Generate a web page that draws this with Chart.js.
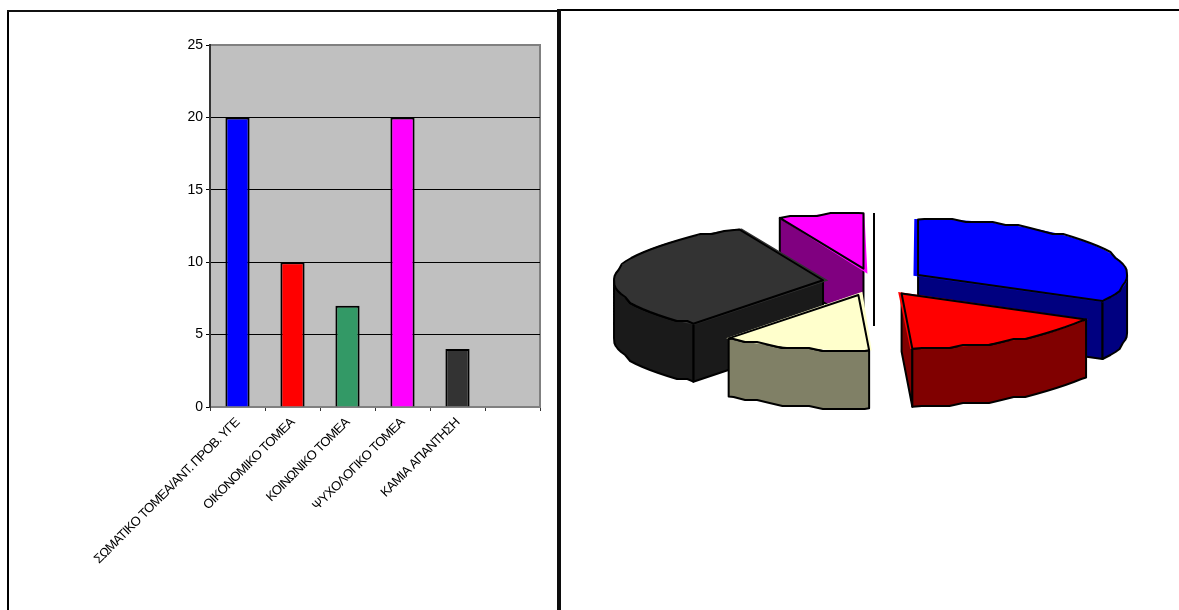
<!DOCTYPE html>
<html>
<head>
<meta charset="utf-8">
<title>Τομείς</title>
<script src="https://cdn.jsdelivr.net/npm/chart.js@4"></script>
<style>
  html, body { margin: 0; padding: 0; background: #fff; overflow: hidden; }
  canvas { position: absolute; top: 0; }
  #chartBar { left: 0; }
  #chartPie { left: 569px; }
  .rule { position: absolute; background: #000; }
</style>
</head>
<body>
<div class="rule" style="left:7px;top:10px;width:2px;height:600px"></div>
<div class="rule" style="left:7px;top:10px;width:550px;height:2px;background:#111"></div>
<div class="rule" style="left:557px;top:9px;width:4px;height:601px;background:#0c0c0c"></div>
<div class="rule" style="left:561px;top:9px;width:618px;height:2px"></div>
<canvas id="chartBar" width="557" height="610"></canvas>
<canvas id="chartPie" width="610" height="564"></canvas>
<div class="rule" style="left:873px;top:213px;width:2px;height:113px"></div>

<script>
const categories = [
    'ΣΩΜΑΤΙΚΟ ΤΟΜΕΑ/ΑΝΤ. ΠΡΟΒ. ΥΓΕ',
    'ΟΙΚΟΝΟΜΙΚΟ ΤΟΜΕΑ',
    'ΚΟΙΝΩΝΙΚΟ ΤΟΜΕΑ',
    'ΨΥΧΟΛΟΓΙΚΟ ΤΟΜΕΑ',
    'ΚΑΜΙΑ ΑΠΑΝΤΗΣΗ',
    ''
];
const barValues = [20, 10, 7, 20, 4, null];
const barColors = ['#0000ff', '#ff0000', '#339966', '#ff00ff', '#333333', '#000000'];

const pieValues = [20, 10, 7, 20, 4];
const pieColors = ['#0000ff', '#ff0000', '#ffffcc', '#333333', '#ff00ff'];
const pieWallColors = ['#000080', '#800000', '#808066', '#1a1a1a', '#800080'];
// back to front, so nearer walls cover the ones behind them
const wallOrder = [4, 3, 0, 2, 1];

const fontFamily = '"Liberation Sans", Arial, sans-serif';

const barFrame = {
    id: 'barFrame',
    beforeDraw(chart) {
        const { ctx, chartArea: a } = chart;
        ctx.save();
        ctx.fillStyle = '#c0c0c0';
        ctx.fillRect(a.left, a.top, a.right - a.left, a.bottom - a.top);
        ctx.strokeStyle = '#808080';
        ctx.lineWidth = 2;
        ctx.strokeRect(a.left, a.top, a.right - a.left, a.bottom - a.top);
        ctx.restore();
    },
    // only the x labels are drawn after the bars, so only they get tightened
    afterDatasetsDraw(chart) {
        chart.ctx.letterSpacing = '-0.7px';
    },
    afterDraw(chart) {
        const { ctx, chartArea: a } = chart;
        ctx.letterSpacing = '0px';
        // the labels stop short of the axis
        ctx.fillStyle = '#fff';
        ctx.fillRect(a.left - 2, a.bottom + 5, a.right - a.left + 4, 5);
    }
};

new Chart(document.getElementById('chartBar'), {
    type: 'bar',
    data: {
        labels: categories,
        datasets: [{
            data: barValues,
            backgroundColor: barColors,
            borderColor: '#000',
            borderWidth: 2,
            categoryPercentage: 1,
            barPercentage: 0.44
        }]
    },
    options: {
        responsive: false,
        animation: false,
        layout: { padding: { left: 170, top: 45, right: 17 } },
        plugins: { legend: { display: false }, tooltip: { enabled: false } },
        scales: {
            x: {
                grid: { drawOnChartArea: false, color: '#333', tickLength: 4 },
                border: { color: '#808080', width: 2 },
                afterFit: s => { s.height = 203; },
                ticks: {
                    z: 1,
                    autoSkip: false,
                    minRotation: 45,
                    maxRotation: 45,
                    padding: 4,
                    color: '#000',
                    font: { family: fontFamily, size: 13 }
                }
            },
            y: {
                min: 0,
                max: 25,
                grid: {
                    color: c => (c.tick.value === 25 ? '#808080' : '#000'),
                    tickColor: '#000',
                    tickLength: 4
                },
                border: { color: '#333', width: 2 },
                afterFit: s => { s.width = 40; },
                ticks: {
                    stepSize: 5,
                    padding: 3,
                    color: '#000',
                    font: { family: fontFamily, size: 14 }
                }
            }
        }
    },
    plugins: [barFrame]
});

// flattened 3D pie: the library draws the top faces, squashed vertically
const squash = 0.265;
const depth = 58;
const explode = 51.4;
const rimStep = 14 / 209;
const pieTotal = pieValues.reduce((s, v) => s + v, 0);

// ArcElement moves a slice by offset/4 * (2 - sin(circumference))
const pieOffsets = pieValues.map(v => {
    const sweep = v / pieTotal * Math.PI * 2;
    return explode * 4 / (2 - Math.sin(Math.min(Math.PI, sweep)));
});

function slicePoint(el, angle, radius) {
    const mid = (el.startAngle + el.endAngle) / 2;
    return {
        x: el.x + Math.cos(mid) * explode + Math.cos(angle) * radius,
        y: el.y + (Math.sin(mid) * explode + Math.sin(angle) * radius) * squash
    };
}

// rim of a slice between two angles, with the stepped look of a coarse plot
function rimPoints(el, lo, hi) {
    const pts = [slicePoint(el, lo, el.outerRadius)];
    for (let k = Math.ceil(lo / rimStep + 0.3); k * rimStep < hi - rimStep * 0.3; k++) {
        const p = slicePoint(el, k * rimStep, el.outerRadius);
        pts.push({ x: p.x, y: Math.round(p.y / 3) * 3 });
    }
    pts.push(slicePoint(el, hi, el.outerRadius));
    return pts;
}

function tracePath(ctx, pts) {
    ctx.beginPath();
    pts.forEach((p, i) => (i ? ctx.lineTo(p.x, p.y) : ctx.moveTo(p.x, p.y)));
    ctx.closePath();
}

function drawWall(ctx, top, color) {
    const bottom = top.slice().reverse().map(p => ({ x: p.x, y: p.y + depth }));
    tracePath(ctx, top.concat(bottom));
    ctx.fillStyle = color;
    ctx.fill();
    ctx.stroke();
}

const pieSolid = {
    id: 'pieSolid',
    beforeDatasetsDraw(chart) {
        const { ctx } = chart;
        const arcs = chart.getDatasetMeta(0).data;
        ctx.save();
        ctx.strokeStyle = '#000';
        ctx.lineWidth = 2;
        ctx.lineJoin = 'round';
        wallOrder.forEach(i => {
            const el = arcs[i];
            const apex = slicePoint(el, 0, 0);
            // flat cut faces that turn towards the viewer
            if (Math.cos(el.startAngle) < -1e-6) {
                drawWall(ctx, [apex, slicePoint(el, el.startAngle, el.outerRadius)], pieWallColors[i]);
            }
            if (Math.cos(el.endAngle) > 1e-6) {
                drawWall(ctx, [apex, slicePoint(el, el.endAngle, el.outerRadius)], pieWallColors[i]);
            }
            // curved outer wall, front half of the ellipse only
            const lo = Math.max(el.startAngle, 0);
            const hi = Math.min(el.endAngle, Math.PI);
            if (hi > lo) drawWall(ctx, rimPoints(el, lo, hi), pieWallColors[i]);
        });
        ctx.restore();

        ctx.save();
        const cy = arcs[0].y;
        ctx.translate(0, cy);
        ctx.scale(1, squash);
        ctx.translate(0, -cy);
    },
    afterDatasetsDraw(chart) {
        const { ctx } = chart;
        ctx.restore();
        ctx.save();
        ctx.strokeStyle = '#000';
        ctx.lineWidth = 2;
        ctx.lineJoin = 'round';
        chart.getDatasetMeta(0).data.forEach(el => {
            tracePath(ctx, [slicePoint(el, 0, 0)].concat(rimPoints(el, el.startAngle, el.endAngle)));
            ctx.stroke();
        });
        ctx.restore();
    }
};

new Chart(document.getElementById('chartPie'), {
    type: 'pie',
    data: {
        labels: categories.slice(0, 5),
        datasets: [{
            data: pieValues,
            backgroundColor: pieColors,
            borderWidth: 0,
            offset: pieOffsets,
            radius: 209,
            clip: false
        }]
    },
    options: {
        responsive: false,
        animation: false,
        plugins: { legend: { display: false }, tooltip: { enabled: false } }
    },
    plugins: [pieSolid]
});
</script>
</body>
</html>
